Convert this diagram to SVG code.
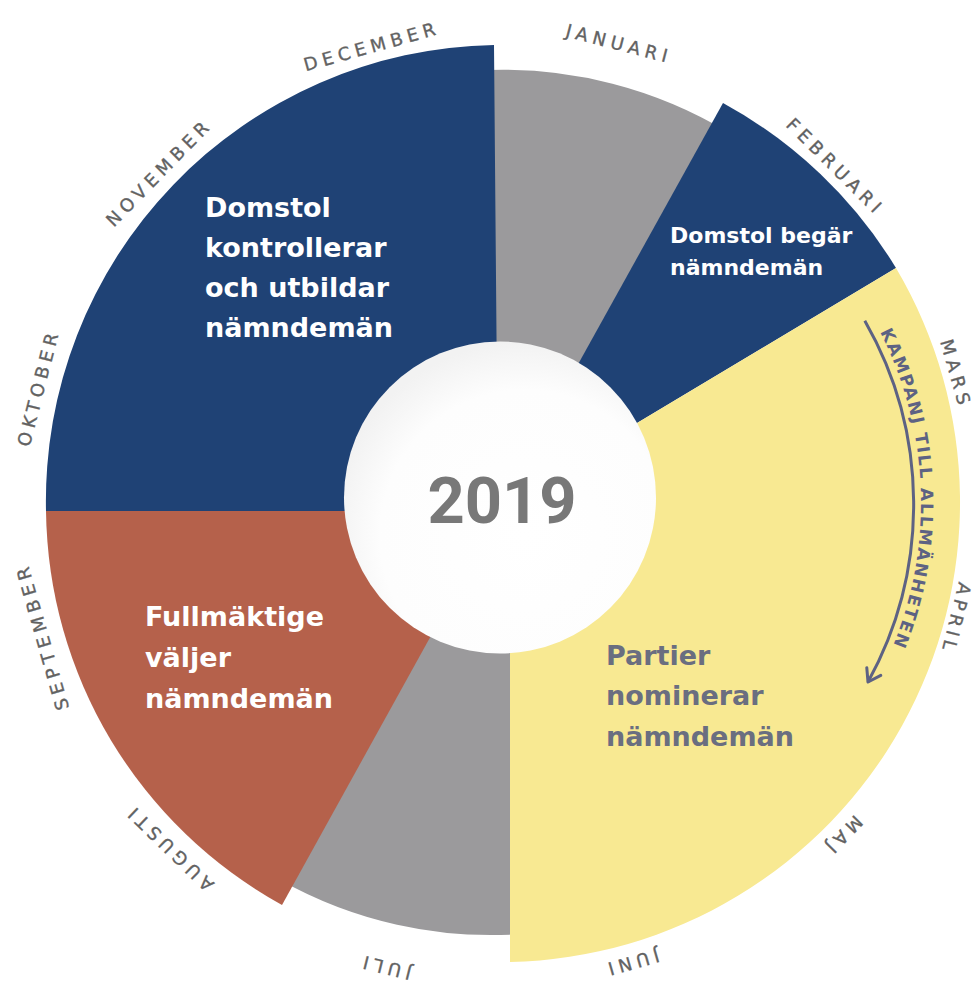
<svg xmlns="http://www.w3.org/2000/svg" width="978" height="983" viewBox="0 0 978 983">
<defs>
<radialGradient id="hub" cx="58%" cy="62%" r="62%">
<stop offset="0" stop-color="#ffffff"/>
<stop offset="0.75" stop-color="#fdfdfd"/>
<stop offset="1" stop-color="#f2f2f2"/>
</radialGradient>
<marker id="chev" markerUnits="userSpaceOnUse" markerWidth="24" markerHeight="24" refX="0" refY="0" viewBox="-14 -12 20 24" orient="auto">
<path d="M -12,-8 L 0,0 L -12,8" fill="none" stroke="#5d6283" stroke-width="3" stroke-linecap="round" stroke-linejoin="round"/>
</marker>
<path id="kampanjPath" d="M 732.5,176.5 A 377 377 0 0 1 758.1,813.3"/>
<style>
.blue{fill:#1f4275}
.gray{fill:#9b9a9c}
.red{fill:#b5614b}
.yellow{fill:#f8e992}
.lbl{font-family:"DejaVu Sans","Liberation Sans",sans-serif;font-weight:bold;font-size:27px;fill:#ffffff}
.lbl2{font-family:"DejaVu Sans","Liberation Sans",sans-serif;font-weight:bold;font-size:22px;fill:#ffffff}
.dark{fill:#6a6e80}
.month{font-family:"DejaVu Sans","Liberation Sans",sans-serif;font-size:18px;letter-spacing:5px;fill:#626262;stroke:#626262;stroke-width:0.35px;text-anchor:middle}
.kamp{font-family:"DejaVu Sans","Liberation Sans",sans-serif;font-weight:bold;font-size:17px;letter-spacing:1.8px;fill:#5d6283}
</style>
</defs>
<rect width="978" height="983" fill="#ffffff"/>

<g id="seg-jan">
<path class="gray" d="M 488,505 L 488,70 A 437 437 0 0 1 728,132 L 500,505 Z"/>
</g>

<g id="seg-jul">
<path class="gray" d="M 500,505 L 522,505 L 522,934 A 432 432 0 0 1 280,880 Z"/>
</g>

<g id="seg-okt-dec">
<path class="blue" d="M 500,511 L 46,511 A 456 456 0 0 1 494,45 L 498,511 Z"/>
<text class="lbl" x="205"><tspan x="205" y="217">Domstol</tspan><tspan x="205" y="257">kontrollerar</tspan><tspan x="205" y="297">och utbildar</tspan><tspan x="205" y="337">nämndemän</tspan></text>
</g>

<g id="seg-feb">
<path class="blue" d="M 500,505 L 723,103 A 460 460 0 0 1 896,268 Z"/>
<text class="lbl2"><tspan x="670" y="243">Domstol begär</tspan><tspan x="670" y="275">nämndemän</tspan></text>
</g>

<g id="seg-mar-jun">
<path class="yellow" d="M 500,505 L 896,268 A 460 460 0 0 1 510,962 L 510,600 Z"/>
<text class="lbl dark"><tspan x="606" y="665">Partier</tspan><tspan x="606" y="705">nominerar</tspan><tspan x="606" y="746">nämndemän</tspan></text>
</g>

<g id="seg-aug-sep">
<path class="red" d="M 500,511 L 282,905 A 456 456 0 0 1 46,511 Z"/>
<text class="lbl"><tspan x="145" y="626">Fullmäktige</tspan><tspan x="145" y="667">väljer</tspan><tspan x="145" y="708">nämndemän</tspan></text>
</g>

<g id="hub-circle">
<circle cx="500" cy="497.5" r="156" fill="url(#hub)"/>
<text x="502" y="523" text-anchor="middle" font-family="Roboto,'Liberation Sans',sans-serif" font-weight="bold" font-size="65" fill="#787878">2019</text>
</g>

<g id="months">
<text class="month" x="500" y="35" transform="rotate(14.5 500 505)">JANUARI</text>
<text class="month" x="500" y="35" transform="rotate(44.8 500 505)">FEBRUARI</text>
<text class="month" x="500" y="37" transform="rotate(74 500 505)">MARS</text>
<text class="month" x="500" y="41" transform="rotate(104 500 505)" style="letter-spacing:4.5px">APRIL</text>
<text class="month" x="500" y="35" transform="rotate(134 500 505)">MAJ</text>
<text class="month" x="500" y="35" transform="rotate(164 500 505)">JUNI</text>
<text class="month" x="500" y="35" transform="rotate(194 500 505)">JULI</text>
<text class="month" x="500" y="35" transform="rotate(224 500 505)">AUGUSTI</text>
<text class="month" x="500" y="35" transform="rotate(254 500 505)">SEPTEMBER</text>
<text class="month" x="500" y="35" transform="rotate(284.3 500 505)">OKTOBER</text>
<text class="month" x="500" y="35" transform="rotate(314.3 500 505)">NOVEMBER</text>
<text class="month" x="500" y="35" transform="rotate(344.4 500 505)">DECEMBER</text>
</g>

<g id="connectors">
<path d="M 864.8,320.7 A 369 369 0 0 1 868,682" fill="none" stroke="#5d6283" stroke-width="3" marker-end="url(#chev)"/>
</g>

<g id="kampanj">
<text class="kamp"><textPath href="#kampanjPath" startOffset="50%" text-anchor="middle">KAMPANJ TILL ALLMÄNHETEN</textPath></text>
</g>
</svg>
